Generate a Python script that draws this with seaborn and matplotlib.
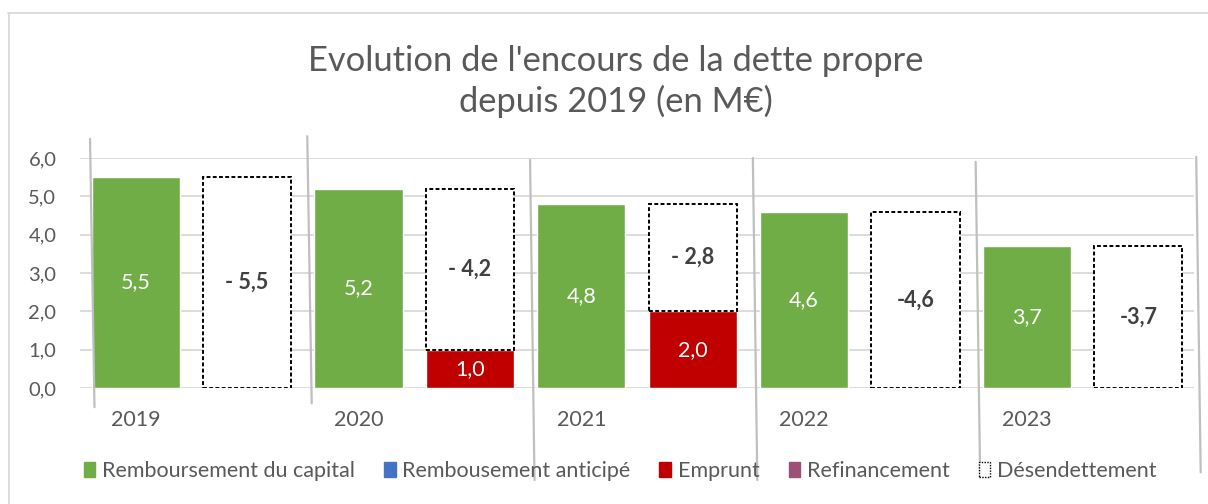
import matplotlib
matplotlib.use("Agg")
import matplotlib.pyplot as plt
from matplotlib.patches import Patch
from matplotlib.lines import Line2D
import seaborn as sns
import pandas as pd

# ---- data ----
years = ["2019", "2020", "2021", "2022", "2023"]
capital = [5.5, 5.2, 4.8, 4.6, 3.7]            # Remboursement du capital
anticipe = [0.0, 0.0, 0.0, 0.0, 0.0]           # Rembousement anticipé
emprunt = [0.0, 1.0, 2.0, 0.0, 0.0]            # Emprunt
refinancement = [0.0, 0.0, 0.0, 0.0, 0.0]      # Refinancement
desendettement = [5.5, 4.2, 2.8, 4.6, 3.7]     # Désendettement
desend_labels = ["- 5,5", "- 4,2", "- 2,8", "-4,6", "-3,7"]
y_ticks = [0, 1, 2, 3, 4, 5, 6]

GREEN = "#70AD47"
BLUE = "#4472C4"
RED = "#C00000"
PURPLE = "#9E4F78"
TXT = "#595959"
GRID = "#D9D9D9"
SEP = "#BFBFBF"

sns.set_theme(style="white")
plt.rcParams["font.family"] = ["Lato", "DejaVu Sans"]

slots = []
for y in years:
    slots += [y + "a", y + "b"]
pos_a = [2 * i for i in range(len(years))]
pos_b = [2 * i + 1 for i in range(len(years))]

df_cap = pd.DataFrame({"slot": [y + "a" for y in years], "value": capital})
df_emp = pd.DataFrame({"slot": [y + "b" for y in years], "value": emprunt})
df_emp = df_emp[df_emp["value"] > 0]

fig = plt.figure(figsize=(12.08, 5.04), dpi=100)
ax = fig.add_axes([80 / 1208, 1 - 388 / 504, 1114 / 1208, 230 / 504])

W = 0.79
sns.barplot(data=df_cap, x="slot", y="value", order=slots, color=GREEN,
            saturation=1, width=W, errorbar=None, ax=ax, zorder=3)
sns.barplot(data=df_emp, x="slot", y="value", order=slots, color=RED,
            saturation=1, width=W, errorbar=None, ax=ax, zorder=3)
ax.bar(pos_b, desendettement, bottom=emprunt, width=W, facecolor="white",
       edgecolor="black", linestyle=(0, (2.0, 1.2)), linewidth=1.4, zorder=3)

def fmt(v):
    return f"{v:.1f}".replace(".", ",")

LBL = 15.5
for p, v in zip(pos_a, capital):
    ax.text(p, v / 2, fmt(v), ha="center", va="center", color="white",
            fontsize=LBL, zorder=5)
for p, v in zip(pos_b, emprunt):
    if v > 0:
        ax.text(p, v / 2, fmt(v), ha="center", va="center", color="white",
                fontsize=LBL, zorder=5)
for p, b, v, lab in zip(pos_b, emprunt, desendettement, desend_labels):
    ax.text(p, b + v / 2, lab, ha="center", va="center", color="#404040",
            fontsize=LBL, fontweight="bold", zorder=5)

ax.set_xlim(-0.5, 9.5)
ax.set_ylim(0, 6)
ax.set_yticks(y_ticks)
ax.set_yticklabels([fmt(t) for t in y_ticks], color=TXT, fontsize=14.5)
ax.set_xticks(pos_a)
ax.set_xticklabels(years, color=TXT, fontsize=15.5)
ax.tick_params(axis="x", length=0, pad=16)
ax.tick_params(axis="y", length=0, pad=17)
ax.set_xlabel("")
ax.set_ylabel("")
for s in ax.spines.values():
    s.set_visible(False)
ax.yaxis.grid(True, color=GRID, linewidth=1.3, zorder=0)
ax.set_axisbelow(True)

# decorative separators between year groups (slightly slanted, as in source)
sep_x = [-0.5 + 2 * k for k in range(6)]
sep_top = [6.5, 6.57, 5.95, 6.0, 5.9, 6.03]
sep_bot = [-0.5, -0.4, -2.4, -2.4, -2.27, -2.2]
for k, (x0, t, b) in enumerate(zip(sep_x, sep_top, sep_bot)):
    off = 0.09 if k == 0 else (0.04 if k < 5 else 0.02)
    ax.add_line(Line2D([x0 + off, x0 + off + 0.04], [t, b], color=SEP,
                       linewidth=1.6, clip_on=False, zorder=6))

# chart area border (partially visible)
fig.add_artist(Line2D([8 / 1208, 1], [1 - 13 / 504, 1 - 13 / 504],
                      color=GRID, linewidth=1.3, transform=fig.transFigure))
fig.add_artist(Line2D([9 / 1208, 9 / 1208], [0, 1 - 13 / 504],
                      color=GRID, linewidth=1.3, transform=fig.transFigure))

fig.text(616 / 1208, 1 - 81.5 / 504,
         "Evolution de l'encours de la dette propre\ndepuis 2019 (en M€)",
         ha="center", va="center", fontsize=24.8, color=TXT, linespacing=1.3)

handles = [
    Patch(facecolor=GREEN, edgecolor=GREEN),
    Patch(facecolor=BLUE, edgecolor=BLUE),
    Patch(facecolor=RED, edgecolor=RED),
    Patch(facecolor=PURPLE, edgecolor=PURPLE),
    Patch(facecolor="white", edgecolor="black", linestyle=(0, (1, 1)), linewidth=1),
]
labels = ["Remboursement du capital", "Rembousement anticipé", "Emprunt",
          "Refinancement", "Désendettement"]
fig.legend(handles, labels, loc="center", bbox_to_anchor=(620 / 1208, 1 - 471 / 504),
           ncol=5, frameon=False, fontsize=15.5, handlelength=0.55, handleheight=0.65,
           handletextpad=0.3, columnspacing=1.35, labelcolor=TXT)

fig.savefig("out.png", dpi=100)
